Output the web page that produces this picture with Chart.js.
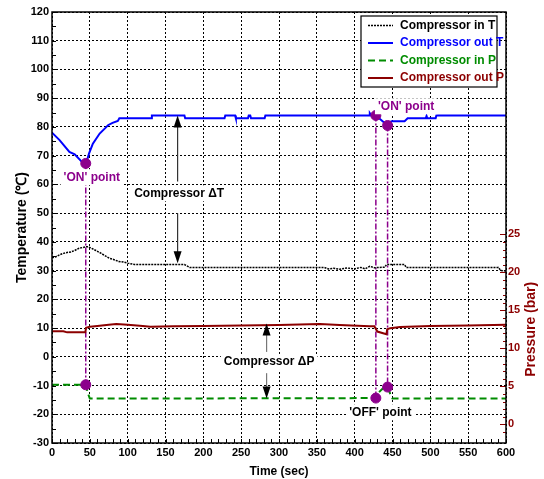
<!DOCTYPE html>
<html>
<head>
<meta charset="utf-8">
<script src="https://cdn.jsdelivr.net/npm/chart.js@4.4.0/dist/chart.umd.min.js"></script>
<style>
html, body { margin: 0; padding: 0; background: #fff; }
#wrap { width: 544px; height: 479px; }
</style>
</head>
<body>
<div id="wrap"><canvas id="chart" width="544" height="479"></canvas></div>
<script>
// Compressor in T (deg C)
const inTTime = [0, 5, 10, 15, 20, 25, 30, 35, 40, 45, 48, 52, 58, 65, 70, 76, 82, 88, 94, 100, 109, 175, 182, 360, 365, 372, 380, 390, 400, 408, 414, 420, 426, 440, 442, 466, 468, 590, 593, 600];
const inTVal = [34.5, 34.8, 35.5, 36, 36.3, 36.5, 37, 37.7, 38, 38.3, 38.3, 37.8, 37, 36, 35.2, 34.3, 33.8, 33.2, 33, 32.6, 32.1, 32.1, 31.1, 31.1, 30.6, 30.8, 30.5, 30.9, 30.6, 31.1, 30.6, 31.5, 31, 31.2, 32.1, 32.1, 31.1, 31.1, 30, 29.9];

// Compressor out T (deg C)
const outTTime = [0, 10, 23, 30, 39, 44.6, 47, 49, 54, 63, 70, 74, 80, 87, 89, 131, 132, 175, 176, 228, 229, 242, 243, 259, 260, 262, 263, 281, 282, 419, 420, 422, 428, 443.5, 447, 449, 466, 470, 494, 495, 496, 507, 508, 600];
const outTVal = [78, 75.4, 71.3, 70.5, 68, 67.3, 69, 70.8, 74.2, 77.7, 79.5, 80.6, 81.4, 82.1, 83, 83, 84, 84, 83, 83, 84, 84, 83, 83, 84, 84, 83, 83, 84, 84, 84.8, 84, 84, 80.5, 81.8, 82, 82, 83, 83, 83.8, 83, 83, 84, 84];

// Compressor in P (bar)
const inPTime = [0, 44.6, 47, 50, 428, 432, 436, 440, 443.5, 447, 450, 600];
const inPVal = [5.2, 5.2, 4.2, 3.38, 3.45, 4.2, 4.6, 4.9, 4.9, 4.0, 3.38, 3.38];

// Compressor out P (bar)
const outPTime = [0, 15, 20, 44, 45, 50, 60, 75, 85, 100, 120, 130, 160, 200, 250, 300, 354, 380, 420, 426, 430, 442, 443, 447, 460, 500, 550, 600];
const outPVal = [12.25, 12.25, 12.1, 12.1, 12.7, 12.85, 12.95, 13.1, 13.2, 13.1, 12.95, 12.85, 12.9, 12.95, 13.0, 13.05, 13.2, 13.05, 12.9, 12.9, 12.2, 11.85, 12.5, 12.65, 12.8, 12.95, 13.0, 13.1];

// 'ON' points on outlet temperature, 'OFF' points on inlet pressure
const onTime = [44.6, 428, 443.5];
const onTemp = [67.3, 84, 80.5];
const offPress = [5.2, 3.45, 4.9];
// bottom end of each dash-dot marker line (deg C)
const markerBottom = [-9.7, -14.3, -10.6];

const legendLabels = ['Compressor in T', 'Compressor out T', 'Compressor in P', 'Compressor out P'];

const BLUE = '#0000ff';
const GREEN = '#008c00';
const RED = '#8c0000';
const PURPLE = '#8c008c';
const tickFont = { family: 'Arial, "Liberation Sans", sans-serif', size: 11, weight: 'bold' };
const titleFont = { family: 'Arial, "Liberation Sans", sans-serif', size: 12, weight: 'bold' };

const pts = (ts, vs) => ts.map((t, i) => ({ x: t, y: vs[i] }));

const markerSets = onTime.map((t, i) => ({
    type: 'line',
    data: [{ x: t, y: onTemp[i] }, { x: t, y: markerBottom[i] }],
    yAxisID: 'y',
    borderColor: PURPLE,
    borderWidth: 1.5,
    borderDash: [6, 2, 2, 2],
    pointRadius: 0,
    order: 5
}));

// text labels and double arrows placed in data units
const notes = [
    { text: "'ON' point", x: 52.6, y: 62.5, color: PURPLE },
    { text: "'ON' point", x: 468, y: 87.2, color: PURPLE },
    { text: 'Compressor \u0394T', x: 168, y: 56.9, color: '#000' },
    { text: 'Compressor \u0394P', x: 287, y: -1.8, color: '#000' },
    { text: "'OFF' point", x: 434, y: -19.3, color: '#000' }
];
const arrows = [
    { x: 166, from: 61, to: 84, color: '#333' },
    { x: 166, from: 50, to: 32.6, color: '#333' },
    { x: 283.6, from: 1.7, to: 11.6, color: '#777' },
    { x: 283.6, from: -5.7, to: -14.5, color: '#777' }
];

const overlay = {
    id: 'overlay',
    afterDraw(chart) {
        const { ctx, chartArea: a, scales } = chart;
        const sx = scales.x, sy = scales.y, sp = scales.yP;
        ctx.save();

        // inside tick marks
        ctx.lineWidth = 1;
        ctx.setLineDash([]);
        ctx.strokeStyle = '#000';
        ctx.beginPath();
        sx.ticks.forEach(tk => {
            const px = Math.round(sx.getPixelForValue(tk.value)) + 0.5;
            ctx.moveTo(px, a.bottom); ctx.lineTo(px, a.bottom - 4);
        });
        sy.ticks.forEach(tk => {
            const py = Math.round(sy.getPixelForValue(tk.value)) + 0.5;
            ctx.moveTo(a.left, py); ctx.lineTo(a.left + 4, py);
        });
        ctx.stroke();
        ctx.strokeStyle = RED;
        ctx.lineWidth = 1.2;
        ctx.beginPath();
        sp.ticks.forEach(tk => {
            if (tk.value < -1 || tk.value > 25 || tk.value % 1 !== 0) return;
            const py = Math.round(sp.getPixelForValue(tk.value)) + 0.5;
            const len = tk.value % 5 === 0 ? 6 : 3;
            ctx.moveTo(a.right, py); ctx.lineTo(a.right - len, py);
        });
        ctx.stroke();

        // frame
        ctx.strokeStyle = '#000';
        ctx.lineWidth = 1.5;
        ctx.strokeRect(a.left, a.top, a.right - a.left, a.bottom - a.top);

        // pressure axis title, reading upward, centred on the 0-25 bar span
        ctx.save();
        ctx.translate(531, (sp.getPixelForValue(0) + sp.getPixelForValue(25)) / 2);
        ctx.rotate(-Math.PI / 2);
        ctx.font = 'bold 14px Arial, "Liberation Sans", sans-serif';
        ctx.fillStyle = RED;
        ctx.textAlign = 'center';
        ctx.textBaseline = 'middle';
        ctx.fillText('Pressure (bar)', 0, 0);
        ctx.restore();

        // arrows
        arrows.forEach(ar => {
            const px = sx.getPixelForValue(ar.x);
            const y0 = sy.getPixelForValue(ar.from);
            const y1 = sy.getPixelForValue(ar.to);
            const dir = y1 < y0 ? 1 : -1;
            ctx.strokeStyle = ar.color;
            ctx.lineWidth = 1.2;
            ctx.beginPath();
            ctx.moveTo(px, y0); ctx.lineTo(px, y1 + dir * 10);
            ctx.stroke();
            ctx.fillStyle = '#000';
            ctx.beginPath();
            ctx.moveTo(px, y1);
            ctx.lineTo(px - 4, y1 + dir * 12);
            ctx.lineTo(px + 4, y1 + dir * 12);
            ctx.closePath();
            ctx.fill();
        });

        // text notes
        ctx.font = 'bold 12px Arial, "Liberation Sans", sans-serif';
        ctx.textAlign = 'center';
        ctx.textBaseline = 'middle';
        notes.forEach(n => {
            const px = sx.getPixelForValue(n.x);
            const py = sy.getPixelForValue(n.y);
            const w = ctx.measureText(n.text).width;
            ctx.fillStyle = '#fff';
            ctx.fillRect(px - w / 2 - 3, py - 8, w + 6, 16);
            ctx.fillStyle = n.color;
            ctx.fillText(n.text, px, py);
        });

        // legend box
        const lx = 361, ly = 16, lw = 136, lh = 71;
        ctx.fillStyle = '#fff';
        ctx.fillRect(lx, ly, lw, lh);
        ctx.strokeStyle = '#000';
        ctx.lineWidth = 1.2;
        ctx.strokeRect(lx, ly, lw, lh);
        ctx.textAlign = 'left';
        chart.data.datasets.slice(0, 4).forEach((ds, i) => {
            const ry = ly + 9.5 + i * 17.5;
            ctx.strokeStyle = ds.borderColor;
            ctx.lineWidth = ds.borderWidth;
            ctx.setLineDash(ds.borderDash || []);
            ctx.beginPath();
            ctx.moveTo(lx + 7, ry); ctx.lineTo(lx + 32, ry);
            ctx.stroke();
            ctx.setLineDash([]);
            ctx.fillStyle = i === 0 ? '#000' : ds.borderColor;
            ctx.fillText(legendLabels[i], lx + 39, ry);
        });
        ctx.restore();
    }
};

new Chart(document.getElementById('chart').getContext('2d'), {
    type: 'line',
    data: {
        datasets: [
            {
                label: legendLabels[0],
                data: pts(inTTime, inTVal),
                yAxisID: 'y',
                borderColor: '#000',
                borderWidth: 1.5,
                borderDash: [2, 1],
                pointRadius: 0,
                order: 4
            },
            {
                label: legendLabels[1],
                data: pts(outTTime, outTVal),
                yAxisID: 'y',
                borderColor: BLUE,
                borderWidth: 2,
                pointRadius: 0,
                order: 3
            },
            {
                label: legendLabels[2],
                data: pts(inPTime, inPVal),
                yAxisID: 'yP',
                borderColor: GREEN,
                borderWidth: 2,
                borderDash: [7, 4],
                pointRadius: 0,
                order: 2
            },
            {
                label: legendLabels[3],
                data: pts(outPTime, outPVal),
                yAxisID: 'yP',
                borderColor: RED,
                borderWidth: 2,
                pointRadius: 0,
                order: 2
            },
            ...markerSets,
            {
                type: 'scatter',
                data: pts(onTime, onTemp),
                yAxisID: 'y',
                pointRadius: 5,
                pointBackgroundColor: PURPLE,
                pointBorderColor: PURPLE,
                showLine: false,
                order: 0
            },
            {
                type: 'scatter',
                data: pts(onTime, offPress),
                yAxisID: 'yP',
                pointRadius: 5,
                pointBackgroundColor: PURPLE,
                pointBorderColor: PURPLE,
                showLine: false,
                order: 0
            }
        ]
    },
    options: {
        responsive: false,
        animation: false,
        layout: { padding: { top: 12, left: 0, right: 0, bottom: 0 } },
        plugins: { legend: { display: false }, tooltip: { enabled: false } },
        scales: {
            x: {
                type: 'linear',
                min: 0,
                max: 600,
                afterFit: s => { s.height = 36; },
                ticks: {
                    stepSize: 10,
                    autoSkip: false,
                    maxRotation: 0,
                    padding: 3,
                    color: '#000',
                    font: tickFont,
                    callback: v => (v % 50 === 0 ? v : '')
                },
                grid: {
                    drawTicks: false,
                    lineWidth: 1,
                    color: c => (c.tick && c.tick.value % 50 === 0 ? '#000' : 'rgba(0,0,0,0)')
                },
                border: { display: false, dash: [2, 2] },
                title: { display: true, text: 'Time (sec)', color: '#000', font: titleFont, padding: { top: 2, bottom: 0 } }
            },
            y: {
                position: 'left',
                min: -30,
                max: 120,
                afterFit: s => { s.width = 52; },
                ticks: {
                    stepSize: 5,
                    autoSkip: false,
                    padding: 3,
                    color: '#000',
                    font: tickFont,
                    callback: v => (v % 10 === 0 ? v : '')
                },
                grid: {
                    drawTicks: false,
                    lineWidth: 1,
                    color: c => (c.tick && c.tick.value % 10 === 0 ? '#000' : 'rgba(0,0,0,0)')
                },
                border: { display: false, dash: [2, 2] },
                title: { display: true, text: 'Temperature (\u2103)', color: '#000', font: { ...titleFont, size: 14 }, padding: { top: 14, bottom: 0 } }
            },
            yP: {
                position: 'right',
                min: -2.46,
                max: 54.25,
                afterFit: s => { s.width = 38; },
                ticks: {
                    stepSize: 1,
                    autoSkip: false,
                    padding: 2,
                    color: RED,
                    font: tickFont,
                    callback: v => (v >= 0 && v <= 25 && v % 5 === 0 ? v : '')
                },
                grid: { drawOnChartArea: false, drawTicks: false },
                border: { display: false }
            }
        }
    },
    plugins: [overlay]
});
</script>
</body>
</html>
